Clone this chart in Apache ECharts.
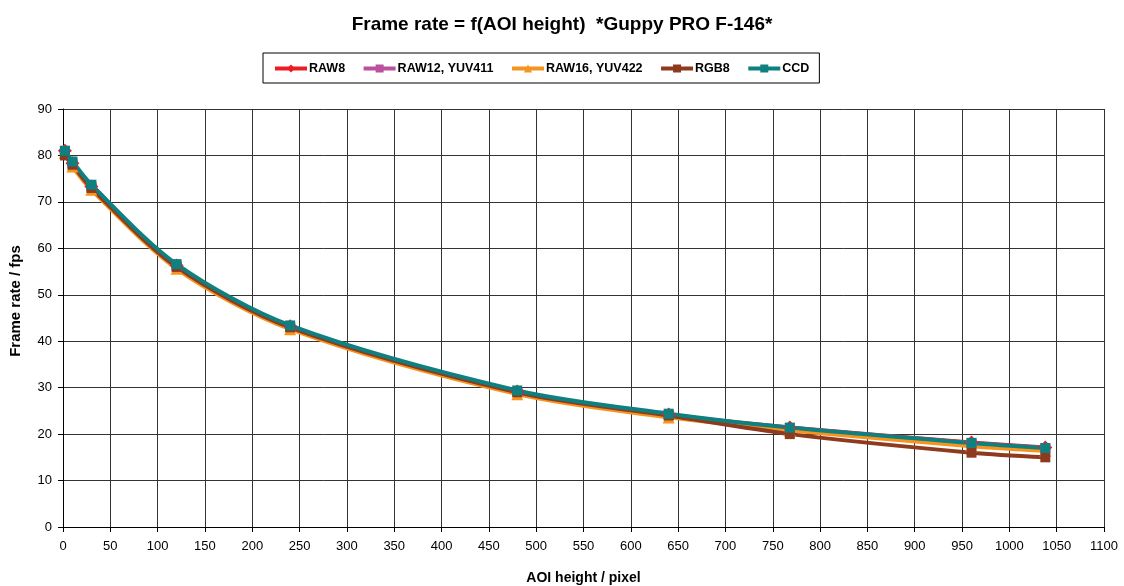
<!DOCTYPE html>
<html>
<head>
<meta charset="utf-8">
<script src="https://cdn.jsdelivr.net/npm/echarts@6/dist/echarts.min.js"></script>
<style>html,body{margin:0;padding:0;background:#fff}#c{width:1124px;height:586px}</style>
</head>
<body>
<div id="c"></div>
<script>
const aoiHeights = [2, 10, 30, 120, 240, 480, 640, 768, 960, 1038];
const raw8   = [81, 78.3, 73.3, 56.3, 43.2, 29.2, 24.2, 21.4, 18.2, 17.1];
const raw12  = [81, 78.3, 73.3, 56.2, 43.1, 29.1, 24.1, 21.3, 18.1, 17];
const raw16  = [80.5, 77.6, 72.6, 55.6, 42.6, 28.6, 23.6, 20.8, 17.4, 16.4];
const rgb8   = [80, 78, 73, 56, 43, 29, 24, 20, 16, 15];
const ccd    = [81, 78.7, 73.7, 56.6, 43.4, 29.4, 24.4, 21.4, 18.1, 17];
const xTicks = {min: 0, max: 1100, interval: 50};
const yTicks = {min: 0, max: 90, interval: 10};

const seriesDefs = [
  {name: 'RAW8', data: raw8, color: '#ED1C24', symbol: 'diamond', size: 14},
  {name: 'RAW12, YUV411', data: raw12, color: '#B9519F', symbol: 'rect', size: 10},
  {name: 'RAW16, YUV422', data: raw16, color: '#F7941D', symbol: 'triangle', size: 12},
  {name: 'RGB8', data: rgb8, color: '#8E3A1F', symbol: 'rect', size: 10},
  {name: 'CCD', data: ccd, color: '#0E8080', symbol: 'rect', size: 10}
];

const chart = echarts.init(document.getElementById('c'), null, {renderer: 'canvas'});
const font = 'Liberation Sans, Arial, sans-serif';
chart.setOption({
  animation: false,
  backgroundColor: '#fff',
  title: {
    text: 'Frame rate = f(AOI height)  *Guppy PRO F-146*',
    left: 'center', top: 10,
    textStyle: {fontFamily: font, fontSize: 19, fontWeight: 'bold', color: '#000'}
  },
  legend: {
    left: 263, top: 53,
    data: seriesDefs.map(s => s.name),
    borderColor: '#000', borderWidth: 1,
    padding: [9, 10, 8, 10],
    itemGap: 16.5, itemWidth: 32, itemHeight: 10,
    lineStyle: {width: 4},
    textStyle: {fontFamily: font, fontSize: 12.5, fontWeight: 'bold', color: '#000', padding: [0, 0, 0, -3]}
  },
  grid: {left: 63, right: 20, top: 109, bottom: 59, containLabel: false, outerBoundsMode: 'none'},
  xAxis: {
    type: 'value', min: xTicks.min, max: xTicks.max, interval: xTicks.interval,
    name: 'AOI height / pixel', nameLocation: 'middle', nameGap: 44,
    nameTextStyle: {fontFamily: font, fontSize: 14, fontWeight: 'bold', color: '#000'},
    axisLine: {lineStyle: {color: '#000', width: 1}},
    axisTick: {show: true, length: 5, lineStyle: {color: '#000'}},
    axisLabel: {fontFamily: font, fontSize: 13, color: '#000', margin: 13, formatter: v => String(v)},
    splitLine: {show: true, lineStyle: {color: '#333', width: 1}}
  },
  yAxis: {
    type: 'value', min: yTicks.min, max: yTicks.max, interval: yTicks.interval,
    name: 'Frame rate / fps', nameLocation: 'middle', nameGap: 40,
    nameTextStyle: {fontFamily: font, fontSize: 15, fontWeight: 'bold', color: '#000', padding: [0, 0, 0, 34]},
    axisLine: {show: true, lineStyle: {color: '#000', width: 1}},
    axisTick: {show: true, length: 5, lineStyle: {color: '#000'}},
    axisLabel: {fontFamily: font, fontSize: 13, color: '#000', margin: 11, formatter: v => String(v)},
    splitLine: {show: true, lineStyle: {color: '#333', width: 1}}
  },
  series: seriesDefs.map(s => ({
    name: s.name, type: 'line', smooth: 0.3,
    data: aoiHeights.map((x, i) => [x, s.data[i]]),
    symbol: s.symbol, symbolSize: s.size, showSymbol: true,
    itemStyle: {color: s.color},
    lineStyle: {color: s.color, width: 4}
  }))
});
</script>
</body>
</html>
